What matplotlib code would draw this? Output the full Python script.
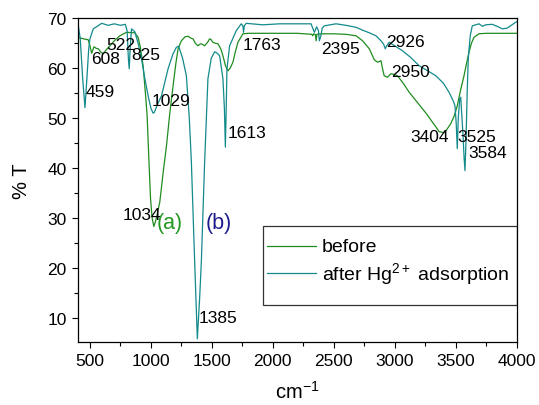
import matplotlib
matplotlib.use("Agg")
import matplotlib.pyplot as plt
from matplotlib.lines import Line2D
from matplotlib.patches import Rectangle
from matplotlib.ticker import MultipleLocator

plt.rcParams["font.family"] = ["Liberation Sans", "DejaVu Sans"]
plt.rcParams["mathtext.fontset"] = "custom"
plt.rcParams["mathtext.rm"] = "Liberation Sans"
plt.rcParams["mathtext.it"] = "Liberation Sans:italic"
plt.rcParams["mathtext.default"] = "regular"

# FTIR spectra
wn_before = [400, 445, 486, 500, 514, 533, 550, 568, 590, 609, 630, 664, 700, 745,
             800, 868, 895, 915, 936, 955, 969, 983, 997, 1010, 1024, 1040, 1073,
             1100, 1128, 1155, 1182, 1205, 1223, 1250, 1280, 1305, 1330, 1345, 1365,
             1386, 1400, 1414, 1441, 1465, 1482, 1495, 1509, 1530, 1550, 1575, 1591,
             1612, 1632, 1650, 1673, 1695, 1714, 1755, 1800, 2000, 2200, 2320, 2328,
             2335, 2350, 2356, 2362, 2400, 2500, 2600, 2683, 2737, 2792, 2833, 2860,
             2888, 2900, 2914, 2941, 2969, 2990, 3023, 3070, 3119, 3175, 3228, 3270,
             3310, 3340, 3365, 3406, 3430, 3460, 3490, 3514, 3540, 3569, 3590, 3610,
             3630, 3651, 3692, 3750, 4000]
t_before = [66.2, 65.9, 65.7, 64.5, 63.0, 64.3, 64.0, 63.9, 63.2, 62.9, 63.6, 64.5,
            65.5, 66.5, 67.2, 67.1, 66.2, 64.0, 60.5, 55.0, 50.5, 42.0, 33.9, 30.0,
            28.3, 29.5, 33.2, 39.0, 44.5, 51.0, 56.5, 61.0, 63.9, 65.5, 66.3, 66.4,
            66.0, 65.9, 65.0, 64.5, 64.8, 64.9, 64.5, 65.2, 65.9, 65.7, 65.2, 65.0,
            64.9, 63.8, 62.5, 60.5, 59.5, 60.0, 61.2, 63.5, 65.2, 66.9, 67.0, 67.0,
            67.0, 66.8, 66.5, 66.9, 66.7, 65.5, 66.8, 66.9, 66.9, 66.8, 66.5, 65.5,
            63.9, 61.7, 61.2, 61.5, 60.0, 58.5, 58.2, 58.9, 58.8, 58.5, 57.0, 55.2,
            53.5, 51.9, 50.6, 49.2, 48.2, 47.3, 47.1, 47.8, 48.9, 50.5, 52.5, 55.5,
            58.5, 61.0, 63.2, 65.0, 66.2, 66.9, 67.0, 67.0]

wn_after = [400, 420, 440, 459, 475, 490, 500, 527, 560, 596, 650, 700, 750, 790,
            805, 815, 822, 830, 841, 868, 895, 923, 950, 977, 1000, 1018, 1029, 1050,
            1087, 1141, 1180, 1209, 1228, 1260, 1291, 1315, 1332, 1359, 1381, 1400,
            1414, 1441, 1468, 1495, 1523, 1545, 1564, 1591, 1603, 1611, 1618, 1624,
            1646, 1700, 1741, 1755, 1760, 1767, 1782, 1918, 2055, 2200, 2314, 2341,
            2360, 2375, 2382, 2395, 2405, 2423, 2519, 2600, 2683, 2740, 2792, 2847,
            2888, 2910, 2923, 2935, 2955, 3000, 3064, 3130, 3201, 3270, 3338, 3400,
            3446, 3480, 3495, 3505, 3514, 3522, 3534, 3542, 3560, 3570, 3577, 3585,
            3595, 3604, 3620, 3637, 3692, 3720, 3747, 3801, 3850, 3883, 3920, 3951,
            3992, 4000]
t_after = [69.2, 66.0, 58.0, 52.1, 58.0, 64.0, 65.9, 67.9, 68.4, 69.0, 68.6, 68.9,
           68.6, 68.8, 67.5, 62.0, 59.9, 64.0, 67.9, 67.3, 65.0, 61.9, 58.0, 54.5,
           52.0, 51.0, 51.2, 52.5, 54.5, 59.9, 62.8, 64.2, 64.4, 62.0, 58.5, 50.0,
           41.3, 21.3, 5.8, 14.0, 21.3, 41.3, 57.9, 62.0, 63.3, 63.0, 62.5, 57.9,
           52.0, 44.2, 52.0, 59.9, 64.5, 67.5, 68.9, 68.5, 67.2, 68.5, 69.0, 68.7,
           68.9, 68.9, 68.9, 67.2, 68.3, 67.5, 65.5, 66.5, 68.0, 68.5, 68.9, 68.6,
           68.2, 67.6, 67.1, 66.5, 65.5, 64.8, 63.9, 64.5, 65.2, 64.5, 63.5, 62.2,
           60.5, 59.5, 58.5, 57.0, 55.2, 53.5, 52.5, 49.0, 43.9, 50.0, 53.9, 54.2,
           47.0, 42.0, 39.5, 45.0, 55.0, 61.9, 66.5, 68.5, 68.9, 68.4, 68.7, 68.8,
           68.3, 67.9, 68.0, 68.5, 69.2, 69.3]

# peak labels: text, x, y
peak_text = ["459", "608", "522", "825", "1029", "1613", "1034", "1385", "1763",
             "2395", "2926", "2950", "3404", "3525", "3584"]
peak_x = [467, 508, 631, 841, 1010, 1632, 764, 1394, 1755, 2396, 2933, 2969, 3125,
          3514, 3604]
peak_y = [55.3, 62.0, 64.7, 62.8, 53.5, 47.1, 30.8, 10.1, 64.7, 64.0, 65.4, 59.4,
          46.4, 46.4, 43.1]

c_before = "#1f8c1f"
c_after = "#138a8c"

fig = plt.figure(figsize=(5.39, 4.06), dpi=100)
ax = fig.add_axes([0.1443, 0.1544, 0.814, 0.798])

ax.plot(wn_before, t_before, color=c_before, lw=0.9)
ax.plot(wn_after, t_after, color=c_after, lw=0.9)

for s, x, y in zip(peak_text, peak_x, peak_y):
    ax.text(x, y, s, fontsize=12.5, ha="left", va="center")

ax.text(1046, 29.1, "(a)", fontsize=15.5, color="#229922", ha="left", va="center")
ax.text(1449, 29.1, "(b)", fontsize=15.5, color="#1c1c8c", ha="left", va="center")

ax.set_xlim(400, 4000)
ax.set_ylim(5.1, 70)
ax.xaxis.set_major_locator(MultipleLocator(500))
ax.xaxis.set_minor_locator(MultipleLocator(250))
ax.yaxis.set_major_locator(MultipleLocator(10))
ax.yaxis.set_minor_locator(MultipleLocator(5))
ax.tick_params(which="both", direction="out", labelsize=12.5, width=0.8)
ax.tick_params(which="major", length=4.5)
ax.tick_params(which="minor", length=3)
for sp in ax.spines.values():
    sp.set_linewidth(0.9)

ax.set_xlabel("cm$^{-1}$", fontsize=14.5, labelpad=8)
ax.set_ylabel("% T", fontsize=14.5, labelpad=12)

# legend box drawn in axes coords
ax.add_patch(Rectangle((0.4228, 0.115), 0.5772, 0.243, transform=ax.transAxes,
                       fill=False, edgecolor="#333333", lw=0.9))
ax.add_line(Line2D([0.4306, 0.5423], [0.2963, 0.2963], transform=ax.transAxes,
                   color=c_before, lw=0.9))
ax.add_line(Line2D([0.4306, 0.5423], [0.2139, 0.2139], transform=ax.transAxes,
                   color=c_after, lw=0.9))
ax.text(0.556, 0.2963, "before", transform=ax.transAxes, fontsize=14,
        ha="left", va="center")
ax.text(0.556, 0.2139, "after Hg$^{2+}$ adsorption", transform=ax.transAxes,
        fontsize=14, ha="left", va="center")

fig.savefig("out.png", dpi=100)
